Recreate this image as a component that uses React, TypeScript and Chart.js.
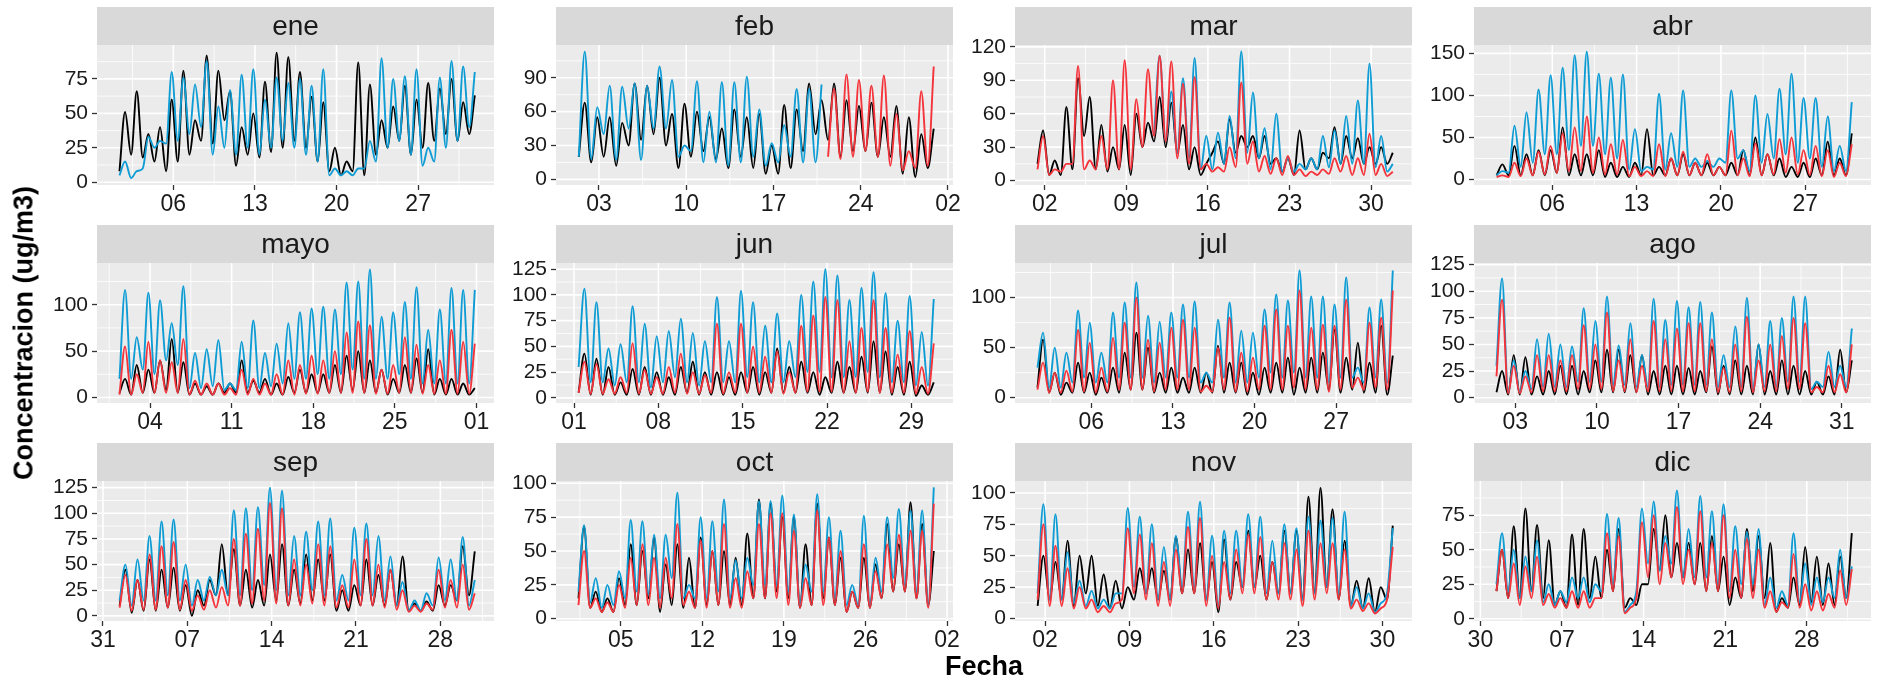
import React, { useEffect, useRef } from "react";
import { Chart, registerables } from "chart.js";
Chart.register(...registerables);

const FONT = '"Liberation Sans", Arial, Helvetica, sans-serif';
Chart.defaults.font.family = FONT;

// ---------- categories / axes ----------
const months = ["ene", "feb", "mar", "abr", "mayo", "jun", "jul", "ago", "sep", "oct", "nov", "dic"];
const monthDays = [31, 29, 31, 30, 31, 30, 31, 31, 30, 31, 30, 31];
const xTickDays = [
  [6, 13, 20, 27], [3, 10, 17, 24, 31], [2, 9, 16, 23, 30], [6, 13, 20, 27],
  [4, 11, 18, 25, 32], [1, 8, 15, 22, 29], [6, 13, 20, 27], [3, 10, 17, 24, 31],
  [0, 7, 14, 21, 28], [5, 12, 19, 26, 33], [2, 9, 16, 23, 30], [0, 7, 14, 21, 28],
];
const xTickLabels = [
  ["06", "13", "20", "27"], ["03", "10", "17", "24", "02"], ["02", "09", "16", "23", "30"], ["06", "13", "20", "27"],
  ["04", "11", "18", "25", "01"], ["01", "08", "15", "22", "29"], ["06", "13", "20", "27"], ["03", "10", "17", "24", "31"],
  ["31", "07", "14", "21", "28"], ["05", "12", "19", "26", "02"], ["02", "09", "16", "23", "30"], ["30", "07", "14", "21", "28"],
];
const yTicks = [
  [0, 25, 50, 75], [0, 30, 60, 90], [0, 30, 60, 90, 120], [0, 50, 100, 150],
  [0, 50, 100], [0, 25, 50, 75, 100, 125], [0, 50, 100], [0, 25, 50, 75, 100, 125],
  [0, 25, 50, 75, 100, 125], [0, 25, 50, 75, 100], [0, 25, 50, 75, 100], [0, 25, 50, 75],
];
const yLimits = [
  [-2, 99.6], [-5, 119], [-4, 121.7], [-6.5, 160],
  [-6, 145], [-5, 131], [-5.3, 134.5], [-5, 126.5],
  [-5, 131.5], [-1.7, 101.7], [-2, 109.5], [-1.6, 99.8],
];

// ---------- series values: pairs (night low, afternoon high) per day ----------
const ene_k = [8,51, 20,66, 18,35, 15,40, 8,60, 15,81, 20,45, 30,92, 28,81, 45,66, 12,40, 20,50, 18,73, 22,94, 25,91, 30,80, 25,62, 15,58, 8,25, 5,15, 8,87, 5,71, 20,45, 25,55, 30,70, 20,60, 25,72, 30,68, 35,75, 30,58, 35,63];
const ene_b = [5,15, 3,8, 10,33, 25,30, 28,80, 30,76, 35,71, 40,88, 20,55, 25,67, 20,78, 25,82, 20,60, 25,76, 30,72, 25,75, 20,70, 15,82, 5,10, 5,8, 5,10, 10,30, 15,90, 25,75, 30,77, 20,82, 12,25, 15,76, 25,88, 30,84, 40,80];

const feb_k = [20,68, 15,55, 20,55, 12,50, 30,85, 35,83, 40,90, 30,58, 10,67, 20,60, 25,55, 18,45, 10,62, 20,55, 10,58, 5,30, 5,66, 10,62, 25,85, 40,70, 35,85, 20,70, 25,65, 25,68, 20,55, 20,65, 5,55, 2,40, 10,45];
const feb_b = [20,113, 18,64, 40,83, 17,82, 45,85, 17,83, 45,100, 45,88, 20,30, 25,87, 15,60, 15,86, 12,86, 15,91, 20,62, 12,32, 15,48, 20,80, 15,80, 15,84];
const feb_r = [20,80, 18,93, 20,88, 25,83, 20,92, 12,58, 8,25, 10,78, 12,100];

const mar_k = [15,45, 5,18, 5,66, 10,92, 40,75, 10,50, 8,30, 10,50, 5,60, 30,52, 35,75, 30,70, 25,50, 10,30, 5,15, 25,35, 15,55, 25,40, 30,40, 20,40, 15,20, 8,20, 5,45, 10,20, 10,25, 20,48, 15,40, 20,38, 15,30, 15,30, 15,25];
const mar_b = [40,112, 35,80, 25,92, 20,110, 10,40, 10,43, 15,58, 20,116, 25,79, 20,47, 10,60, 8,20, 8,15, 10,20, 10,40, 12,45, 15,58, 15,72, 15,105, 12,40, 8,15];
const mar_r = [10,40, 5,10, 8,15, 15,103, 10,18, 10,40, 10,90, 10,108, 10,73, 30,100, 40,112, 35,107, 20,87, 15,93, 10,15, 8,12, 8,30, 12,88, 15,35, 8,22, 6,20, 5,22, 5,10, 4,8, 5,10, 6,20, 8,22, 5,20, 5,42, 5,15, 4,8];

const abr_k = [5,18, 5,40, 5,30, 5,35, 5,35, 8,62, 5,30, 5,30, 5,35, 3,20, 3,15, 3,20, 5,60, 5,15, 5,25, 5,30, 5,20, 5,20, 5,15, 5,20, 5,35, 5,50, 5,30, 5,25, 3,15, 3,20, 3,25, 5,45, 5,25, 5,55];
const abr_b = [5,10, 8,64, 15,80, 20,107, 30,124, 30,133, 35,148, 40,152, 40,126, 30,121, 25,125, 12,60, 10,15, 12,102, 12,55, 15,106, 15,25, 15,22, 15,25, 20,106, 25,35, 10,100, 20,78, 25,108, 30,126, 20,97, 25,97, 15,75, 10,40, 10,92];
const abr_r = [3,5, 3,20, 4,25, 5,33, 6,40, 8,55, 10,62, 10,75, 8,50, 6,42, 6,47, 4,15, 4,10, 4,42, 4,25, 5,33, 5,20, 5,30, 5,15, 5,58, 5,25, 4,43, 5,30, 6,48, 8,50, 6,35, 5,40, 4,35, 3,20, 4,42];

const mayo_k = [5,20, 3,35, 5,30, 5,40, 8,63, 5,38, 3,15, 3,12, 3,15, 5,15, 5,40, 5,18, 5,20, 3,15, 3,22, 5,30, 5,25, 5,25, 5,35, 5,45, 8,50, 5,40, 5,30, 3,20, 5,35, 5,42, 5,52, 3,20, 3,20, 3,15, 3,10];
const mayo_b = [20,116, 20,65, 30,113, 25,105, 40,80, 35,120, 10,48, 10,52, 12,62, 8,15, 8,60, 10,83, 10,48, 12,58, 15,80, 20,92, 20,96, 25,98, 20,95, 25,124, 30,125, 20,138, 20,87, 20,92, 25,103, 20,119, 15,73, 15,95, 15,118, 15,116, 15,116];
const mayo_r = [3,55, 3,25, 5,60, 5,40, 5,38, 5,63, 3,18, 3,15, 3,15, 3,10, 3,30, 3,20, 3,15, 3,25, 3,40, 3,35, 4,45, 4,40, 5,50, 5,70, 5,82, 5,78, 4,30, 4,35, 5,65, 5,57, 4,35, 4,40, 4,73, 4,60, 4,58];

const jun_k = [5,43, 3,38, 3,30, 3,15, 3,28, 3,30, 3,25, 3,20, 3,30, 5,35, 3,25, 3,25, 3,20, 3,25, 5,30, 3,25, 5,48, 5,30, 5,35, 5,25, 3,20, 5,35, 5,30, 5,40, 5,55, 5,45, 3,30, 3,35, 2,12, 3,15];
const jun_b = [30,106, 15,93, 15,48, 12,52, 15,89, 15,72, 10,60, 15,65, 20,77, 15,63, 12,55, 15,98, 15,55, 15,104, 20,93, 15,70, 15,82, 15,55, 20,100, 25,113, 25,125, 20,119, 20,95, 20,107, 25,122, 20,102, 15,75, 15,99, 12,64, 12,96];
const jun_r = [5,35, 4,33, 4,18, 4,20, 5,53, 4,27, 4,20, 4,30, 5,43, 4,25, 4,22, 5,72, 4,25, 5,72, 5,50, 5,40, 5,45, 4,25, 5,70, 6,80, 6,98, 6,95, 5,55, 5,68, 6,95, 5,68, 5,42, 5,65, 4,30, 4,53];

const jul_k = [10,58, 5,25, 3,15, 5,35, 5,25, 3,20, 5,30, 5,45, 8,65, 8,50, 5,25, 5,30, 5,20, 5,30, 5,25, 5,52, 5,35, 5,35, 3,25, 3,30, 5,35, 5,40, 3,30, 5,40, 5,45, 8,68, 5,40, 8,55, 5,35, 5,72, 3,42];
const jul_b = [30,65, 10,50, 10,45, 15,87, 20,75, 15,45, 15,85, 20,95, 20,115, 20,82, 15,76, 20,85, 20,93, 20,96, 15,25, 15,78, 20,95, 15,67, 15,65, 20,88, 25,103, 20,97, 25,127, 20,101, 20,101, 15,93, 20,120, 20,30, 15,90, 20,98, 15,127];
const jul_r = [8,35, 5,25, 5,27, 6,68, 6,55, 5,30, 6,60, 8,75, 8,100, 8,58, 6,55, 8,70, 8,78, 8,70, 6,12, 6,50, 8,80, 6,45, 6,40, 8,72, 8,88, 8,72, 10,107, 8,70, 8,73, 6,72, 8,98, 10,20, 8,75, 10,80, 8,107];

const ago_k = [5,25, 3,40, 3,38, 3,20, 3,25, 3,30, 3,30, 3,25, 5,35, 5,45, 5,45, 5,40, 5,40, 3,25, 3,30, 3,30, 3,28, 3,25, 5,48, 3,30, 3,35, 3,30, 3,50, 3,25, 3,35, 3,30, 3,25, 3,15, 3,20, 3,45, 5,35];
const ago_b = [30,112, 5,35, 5,25, 8,55, 10,60, 10,50, 10,48, 15,84, 15,72, 15,95, 12,49, 12,70, 10,40, 10,93, 10,73, 12,91, 12,85, 12,90, 12,80, 10,40, 10,67, 10,94, 8,50, 10,72, 10,75, 15,95, 15,95, 8,15, 10,43, 10,30, 10,65];
const ago_r = [20,92, 4,30, 4,20, 5,40, 6,40, 6,35, 6,40, 8,68, 8,50, 8,80, 6,35, 6,55, 5,30, 6,72, 6,55, 6,65, 6,70, 6,70, 6,55, 5,28, 5,50, 6,76, 5,35, 6,50, 6,58, 8,75, 8,70, 5,10, 5,30, 5,22, 5,50];

const sep_k = [10,45, 3,35, 5,55, 5,45, 8,47, 5,30, 0,25, 10,35, 20,70, 20,65, 10,45, 8,35, 10,60, 15,70, 10,45, 12,60, 15,55, 15,60, 5,25, 5,30, 10,55, 10,40, 10,45, 10,58, 5,12, 5,14, 5,30, 10,30, 15,68, 20,63];
const sep_b = [15,50, 10,55, 15,78, 15,92, 20,94, 15,50, 10,35, 15,38, 20,45, 20,103, 20,105, 25,106, 30,125, 25,122, 20,78, 20,82, 25,92, 20,95, 15,40, 15,86, 20,90, 20,78, 15,58, 10,33, 5,15, 5,22, 10,57, 15,55, 15,77, 10,35];
const sep_r = [8,40, 5,35, 6,60, 6,68, 8,72, 6,35, 5,20, 6,25, 8,28, 10,75, 10,80, 12,85, 15,110, 12,105, 10,55, 10,50, 12,70, 10,68, 8,30, 8,55, 10,75, 10,50, 8,45, 6,25, 4,10, 4,12, 6,45, 8,35, 8,50, 6,22];

const oct_k = [15,68, 8,20, 5,15, 5,30, 10,55, 10,50, 15,60, 5,40, 10,55, 8,45, 8,60, 10,50, 10,50, 10,45, 10,63, 15,88, 15,85, 20,75, 15,75, 8,55, 10,85, 15,60, 10,45, 5,20, 8,45, 8,40, 15,70, 20,55, 20,86, 15,70, 10,50];
const oct_b = [20,69, 12,30, 8,25, 10,35, 15,73, 20,72, 18,62, 15,62, 30,93, 15,25, 15,75, 15,72, 20,88, 15,43, 15,45, 25,87, 25,87, 25,91, 20,77, 10,40, 20,92, 20,75, 15,65, 10,25, 10,76, 10,45, 20,75, 30,81, 25,80, 20,80, 10,97];
const oct_r = [10,50, 8,15, 5,12, 5,25, 8,45, 10,55, 10,45, 8,45, 15,70, 10,20, 8,58, 8,50, 10,70, 8,30, 8,35, 15,70, 15,78, 15,78, 10,65, 8,30, 10,80, 10,60, 10,50, 5,20, 8,55, 8,35, 15,55, 20,62, 20,65, 15,65, 8,85];

const nov_k = [10,50, 15,45, 15,62, 10,50, 20,50, 10,35, 8,30, 8,25, 15,40, 20,40, 15,38, 15,65, 20,55, 20,60, 15,45, 5,63, 15,45, 25,70, 25,50, 15,45, 20,70, 20,70, 15,97, 20,104, 25,87, 15,62, 10,30, 8,32, 5,25, 15,74];
const nov_b = [20,91, 15,83, 15,53, 12,30, 10,22, 8,15, 8,20, 20,88, 25,81, 20,75, 15,57, 15,66, 25,85, 25,93, 15,66, 10,70, 20,70, 25,83, 25,81, 20,62, 20,75, 20,72, 15,81, 20,78, 25,80, 20,85, 10,25, 8,20, 5,12, 20,72];
const nov_r = [15,75, 10,58, 10,40, 8,25, 8,15, 5,10, 5,12, 15,72, 20,67, 15,60, 10,45, 10,55, 20,73, 20,80, 10,50, 8,45, 15,55, 20,67, 20,65, 15,45, 15,60, 15,55, 10,70, 15,60, 20,60, 15,55, 8,15, 6,12, 4,8, 15,57];

const dic_k = [20,50, 15,67, 15,80, 20,68, 15,57, 10,20, 8,61, 10,65, 15,45, 15,50, 20,65, 8,15, 10,25, 25,65, 35,75, 30,55, 30,55, 25,55, 20,60, 20,45, 10,30, 15,65, 20,60, 15,55, 5,15, 8,30, 10,52, 12,45, 10,40, 10,45, 15,62];
const dic_b = [25,62, 20,50, 15,45, 20,57, 12,25, 10,20, 12,30, 15,30, 12,25, 20,76, 25,73, 5,10, 20,80, 40,85, 35,60, 40,93, 30,65, 30,89, 30,78, 25,83, 20,67, 25,63, 25,65, 10,30, 8,20, 10,62, 12,40, 10,30, 12,30, 15,50, 15,38];
const dic_r = [20,50, 15,40, 10,38, 15,45, 10,18, 8,15, 8,20, 8,20, 8,15, 15,62, 20,60, 4,8, 15,70, 30,75, 25,55, 30,81, 25,50, 25,78, 20,55, 20,75, 15,50, 15,58, 15,50, 8,20, 5,12, 8,47, 8,25, 6,20, 6,18, 8,35, 10,36];

// [black, blue, red] per month, and first day of each series
const monthSeries: (number[] | null)[][] = [
  [ene_k, ene_b, null], [feb_k, feb_b, feb_r], [mar_k, mar_b, mar_r], [abr_k, abr_b, abr_r],
  [mayo_k, mayo_b, mayo_r], [jun_k, jun_b, jun_r], [jul_k, jul_b, jul_r], [ago_k, ago_b, ago_r],
  [sep_k, sep_b, sep_r], [oct_k, oct_b, oct_r], [nov_k, nov_b, nov_r], [dic_k, dic_b, dic_r],
];
const seriesStartDay = [
  [1, 1, 1], [1, 1, 21], [1, 11, 1], [1, 1, 1], [1, 1, 1], [1, 1, 1],
  [1, 1, 1], [1, 1, 1], [1, 1, 1], [1, 1, 1], [1, 1, 1], [1, 1, 1],
];
const seriesColors = ["#000000", "#0E9CD4", "#F5333A"];

// ---------- layout ----------
const PANEL_LEFT0 = 97;
const COL_STEP = 459;
const PANEL_W = 397;
const STRIP_TOPS = [7, 225, 443];
const STRIP_H = 38;
const PANEL_H = 140;
const Y_AXIS_W = 60;
const X_AXIS_H = 34;
const RIGHT_PAD = 22;
const CANVAS_W = Y_AXIS_W + PANEL_W + RIGHT_PAD;
const CANVAS_H = STRIP_H + PANEL_H + X_AXIS_H;

function toPoints(vals: number[], startDay: number) {
  const pts: { x: number; y: number }[] = [];
  for (let i = 0; i < vals.length; i++) {
    const day = startDay + Math.floor(i / 2);
    pts.push({ x: day + (i % 2 === 0 ? 0.38 : 0.86), y: vals[i] });
  }
  return pts;
}

function Panel({ idx }: { idx: number }) {
  const ref = useRef<HTMLCanvasElement>(null);
  useEffect(() => {
    const days = monthDays[idx];
    const last = days + 1 - 1 / 24;
    const span = last - 1;
    const xMin = 1 - 0.05 * span;
    const xMax = last + 0.05 * span;
    const xt = xTickDays[idx];
    const xl = xTickLabels[idx];
    const yt = yTicks[idx];
    const [yMin, yMax] = yLimits[idx];

    const order = [2, 1, 0]; // red on top, then blue, black at the bottom
    const datasets: any[] = [];
    order.forEach((s) => {
      const vals = monthSeries[idx][s];
      if (!vals) return;
      datasets.push({
        data: toPoints(vals, seriesStartDay[idx][s]),
        borderColor: seriesColors[s],
        borderWidth: 1.9,
        pointRadius: 0,
        cubicInterpolationMode: "monotone",
        fill: false,
      });
    });

    const bgPlugin = {
      id: "panelBg",
      beforeDraw(chart: any) {
        const { ctx, chartArea: a, scales } = chart;
        ctx.save();
        ctx.fillStyle = "#D9D9D9";
        ctx.fillRect(a.left, 0, a.right - a.left, STRIP_H);
        ctx.fillStyle = "#1A1A1A";
        ctx.font = `28px ${FONT}`;
        ctx.textAlign = "center";
        ctx.textBaseline = "middle";
        ctx.fillText(months[idx], (a.left + a.right) / 2, STRIP_H / 2 + 1);
        ctx.fillStyle = "#EBEBEB";
        ctx.fillRect(a.left, a.top, a.right - a.left, a.bottom - a.top);
        ctx.strokeStyle = "#FFFFFF";
        const xs = scales.x;
        const ys = scales.y;
        const xMinor: number[] = [xt[0] - 3.5, ...xt.map((v: number) => v + 3.5)];
        const yStep = yt[1] - yt[0];
        const yMinor: number[] = [yt[0] - yStep / 2, ...yt.map((v: number) => v + yStep / 2)];
        const vLine = (v: number) => {
          if (v < xMin || v > xMax) return;
          const p = xs.getPixelForValue(v);
          ctx.beginPath();
          ctx.moveTo(p, a.top);
          ctx.lineTo(p, a.bottom);
          ctx.stroke();
        };
        const hLine = (v: number) => {
          if (v < yMin || v > yMax) return;
          const p = ys.getPixelForValue(v);
          ctx.beginPath();
          ctx.moveTo(a.left, p);
          ctx.lineTo(a.right, p);
          ctx.stroke();
        };
        ctx.lineWidth = 0.8;
        xMinor.forEach(vLine);
        yMinor.forEach(hLine);
        ctx.lineWidth = 1.6;
        xt.forEach(vLine);
        yt.forEach(hLine);
        ctx.restore();
      },
    };

    const chart = new Chart(ref.current as HTMLCanvasElement, {
      type: "line",
      data: { datasets },
      options: {
        animation: false,
        responsive: false,
        devicePixelRatio: 1,
        events: [],
        layout: { padding: { left: 0, top: STRIP_H, right: RIGHT_PAD, bottom: 0 } },
        plugins: { legend: { display: false }, tooltip: { enabled: false }, title: { display: false } },
        scales: {
          x: {
            type: "linear",
            min: xMin,
            max: xMax,
            afterBuildTicks: (s: any) => {
              s.ticks = xt.map((v) => ({ value: v }));
            },
            afterFit: (s: any) => {
              s.height = X_AXIS_H;
            },
            ticks: {
              autoSkip: false,
              maxRotation: 0,
              minRotation: 0,
              padding: 1,
              color: "#1A1A1A",
              font: { size: 23, family: FONT },
              callback: (_v: any, i: number) => xl[i],
            },
            grid: { drawOnChartArea: false, drawTicks: true, tickLength: 5, tickColor: "#333333", tickWidth: 1.3 },
            border: { display: false },
          },
          y: {
            type: "linear",
            min: yMin,
            max: yMax,
            afterBuildTicks: (s: any) => {
              s.ticks = yt.map((v) => ({ value: v }));
            },
            afterFit: (s: any) => {
              s.width = Y_AXIS_W;
            },
            ticks: {
              autoSkip: false,
              padding: 4,
              color: "#1A1A1A",
              font: { size: 21, family: FONT },
            },
            grid: { drawOnChartArea: false, drawTicks: true, tickLength: 5, tickColor: "#333333", tickWidth: 1.3 },
            border: { display: false },
          },
        },
      } as any,
      plugins: [bgPlugin],
    });
    return () => chart.destroy();
  }, [idx]);

  const col = idx % 4;
  const row = Math.floor(idx / 4);
  const left = PANEL_LEFT0 + col * COL_STEP - Y_AXIS_W;
  const top = STRIP_TOPS[row];
  return (
    <canvas
      ref={ref}
      width={CANVAS_W}
      height={CANVAS_H}
      style={{ position: "absolute", left, top, width: CANVAS_W, height: CANVAS_H }}
    />
  );
}

export default function App() {
  return (
    <div
      style={{
        position: "fixed",
        left: 0,
        top: 0,
        width: 1881,
        height: 680,
        background: "#FFFFFF",
        overflow: "hidden",
        fontFamily: FONT,
      }}
    >
      {months.map((m, i) => (
        <Panel key={m} idx={i} />
      ))}
      <div
        style={{
          position: "absolute",
          left: 24,
          top: 333,
          transform: "translate(-50%, -50%) rotate(-90deg)",
          fontWeight: "bold",
          fontSize: 27,
          whiteSpace: "nowrap",
          color: "#000",
        }}
      >
        Concentracion (ug/m3)
      </div>
      <div
        style={{
          position: "absolute",
          left: 984,
          top: 666,
          transform: "translate(-50%, -50%)",
          fontWeight: "bold",
          fontSize: 27,
          whiteSpace: "nowrap",
          color: "#000",
        }}
      >
        Fecha
      </div>
    </div>
  );
}
